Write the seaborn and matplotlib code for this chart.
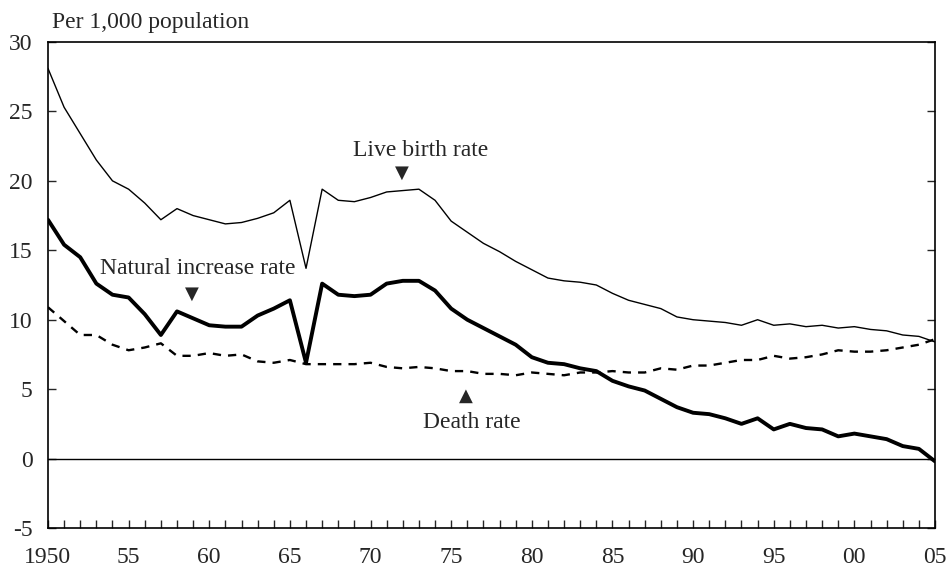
import matplotlib
matplotlib.use("Agg")
import matplotlib.pyplot as plt
import matplotlib.ticker as mticker
import numpy as np
import pandas as pd
import seaborn as sns

sns.set_style("white")
plt.rcParams["font.family"] = ["Liberation Serif", "DejaVu Serif"]
plt.rcParams["axes.unicode_minus"] = False

years = list(range(1950, 2006))

birth_rate = [
    28.1, 25.3, 23.4, 21.5, 20.0, 19.4, 18.4, 17.2, 18.0, 17.5,
    17.2, 16.9, 17.0, 17.3, 17.7, 18.6, 13.7, 19.4, 18.6, 18.5,
    18.8, 19.2, 19.3, 19.4, 18.6, 17.1, 16.3, 15.5, 14.9, 14.2,
    13.6, 13.0, 12.8, 12.7, 12.5, 11.9, 11.4, 11.1, 10.8, 10.2,
    10.0, 9.9, 9.8, 9.6, 10.0, 9.6, 9.7, 9.5, 9.6, 9.4,
    9.5, 9.3, 9.2, 8.9, 8.8, 8.4,
]

death_rate = [
    10.9, 9.9, 8.9, 8.9, 8.2, 7.8, 8.0, 8.3, 7.4, 7.4,
    7.6, 7.4, 7.5, 7.0, 6.9, 7.1, 6.8, 6.8, 6.8, 6.8,
    6.9, 6.6, 6.5, 6.6, 6.5, 6.3, 6.3, 6.1, 6.1, 6.0,
    6.2, 6.1, 6.0, 6.2, 6.2, 6.3, 6.2, 6.2, 6.5, 6.4,
    6.7, 6.7, 6.9, 7.1, 7.1, 7.4, 7.2, 7.3, 7.5, 7.8,
    7.7, 7.7, 7.8, 8.0, 8.2, 8.6,
]

natural_increase = [
    17.2, 15.4, 14.5, 12.6, 11.8, 11.6, 10.4, 8.9, 10.6, 10.1,
    9.6, 9.5, 9.5, 10.3, 10.8, 11.4, 6.9, 12.6, 11.8, 11.7,
    11.8, 12.6, 12.8, 12.8, 12.1, 10.8, 10.0, 9.4, 8.8, 8.2,
    7.3, 6.9, 6.8, 6.5, 6.3, 5.6, 5.2, 4.9, 4.3, 3.7,
    3.3, 3.2, 2.9, 2.5, 2.9, 2.1, 2.5, 2.2, 2.1, 1.6,
    1.8, 1.6, 1.4, 0.9, 0.7, -0.2,
]

xtick_years = [1950, 1955, 1960, 1965, 1970, 1975, 1980, 1985, 1990, 1995, 2000, 2005]
xtick_labels = ["1950", "55", "60", "65", "70", "75", "80", "85", "90", "95", "00", "05"]

df = pd.DataFrame({
    "year": years,
    "birth": birth_rate,
    "death": death_rate,
    "natural": natural_increase,
})

fig = plt.figure(figsize=(9.48, 5.72), dpi=100)
ax = fig.add_axes([0.0506, 0.0769, 0.9357, 0.8497])

ax.axhline(0, color="black", lw=1.0, zorder=1)
sns.lineplot(data=df, x="year", y="birth", ax=ax, color="black", lw=1.0)
sns.lineplot(data=df, x="year", y="death", ax=ax, color="black", lw=1.7,
             linestyle=(0, (3.5, 3)))
sns.lineplot(data=df, x="year", y="natural", ax=ax, color="black", lw=2.8)

ax.set_xlim(1950, 2005)
ax.set_ylim(-5, 30)
ax.set_xlabel("")
ax.set_ylabel("")
ax.set_yticks(range(-5, 31, 5))
ax.set_xticks(xtick_years)
ax.set_xticklabels(xtick_labels)
ax.xaxis.set_minor_locator(mticker.MultipleLocator(1))

for side in ["left", "right", "top", "bottom"]:
    ax.spines[side].set_visible(True)
    ax.spines[side].set_color("black")
    ax.spines[side].set_linewidth(1.2)

ax.tick_params(axis="y", which="both", direction="in", left=True, right=True,
               length=6, width=1.0, labelsize=17, pad=11)
ax.tick_params(axis="x", which="major", direction="in", bottom=True, top=False,
               length=6, width=1.0, labelsize=17, pad=14)
ax.tick_params(axis="x", which="minor", direction="in", bottom=True, top=False,
               length=6, width=1.0)

fig.text(0.055, 0.961, "Per 1,000 population", fontsize=17, ha="left", va="center")

ax.text(1973.1, 22.2, "Live birth rate", fontsize=17, ha="center", va="center")
ax.text(1971.95, 20.6, "\u25bc", fontsize=13, ha="center", va="center",
        family=["DejaVu Sans"])
ax.text(1959.3, 13.7, "Natural increase rate", fontsize=17, ha="center", va="center")
ax.text(1958.9, 11.9, "\u25bc", fontsize=13, ha="center", va="center",
        family=["DejaVu Sans"])
ax.text(1976.3, 2.6, "Death rate", fontsize=17, ha="center", va="center")
ax.text(1975.9, 4.5, "\u25b2", fontsize=13, ha="center", va="center",
        family=["DejaVu Sans"])

fig.savefig("out.png", dpi=100)
